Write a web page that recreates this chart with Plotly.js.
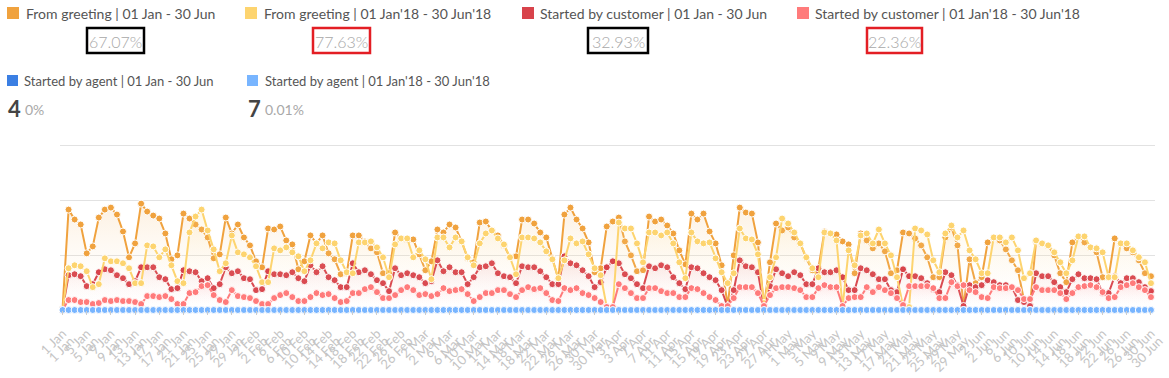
<!DOCTYPE html>
<html>
<head>
<meta charset="utf-8">
<script src="https://cdn.plot.ly/plotly-3.0.1.min.js"></script>
<style>html,body{margin:0;padding:0;background:#fff;}#chart{width:1169px;height:378px;}</style>
</head>
<body>
<div id="chart"></div>
<script>
// ---- data (one value per day, 1 Jan .. 30 Jun) ----
const greeting2019 = [
 1,101,91,86,57,64,93,101,103,96,
 79,53,67,107,99,95,92,77,51,55,
 97,92,86,81,73,52,56,93,77,86,
 73,65,49,43,82,81,84,70,66,41,
 49,75,67,75,57,51,36,37,75,75,
 69,62,58,37,37,78,72,71,71,56,
 40,49,81,78,86,83,69,52,48,88,
 89,80,75,65,53,54,91,91,87,78,
 73,52,31,96,103,91,82,68,38,42,
 84,89,93,69,55,39,40,94,89,91,
 85,77,60,46,97,91,97,79,67,45,
 5,55,103,98,97,68,4,48,87,80,
 83,73,67,52,40,42,79,77,76,69,
 66,37,77,70,62,67,59,37,40,78,
 77,72,65,53,33,33,73,83,65,4,
 51,27,33,68,73,70,61,50,40,10,
 5,69,67,65,55,37,28,68,74,68,
 63,58,33,33,72,67,62,58,50,37,
 34];
const greeting2018 = [
 0,42,45,44,39,23,26,52,49,49,
 47,42,27,27,65,64,53,61,45,29,
 27,78,94,101,80,61,39,47,75,58,
 56,53,44,28,28,62,60,63,58,54,
 39,50,67,62,68,67,50,38,37,68,
 68,69,63,53,33,66,72,72,53,60,
 51,31,73,73,63,73,69,53,45,67,
 77,80,72,66,53,36,73,73,72,68,
 59,51,32,50,72,67,69,56,42,35,
 3,3,88,82,82,67,48,78,78,75,
 78,67,48,32,78,69,67,68,52,38,
 27,37,82,72,71,56,7,33,53,92,
 87,78,67,53,42,33,78,77,70,3,
 60,45,75,77,67,81,67,55,33,4,
 3,82,80,76,50,38,77,85,73,80,
 60,51,37,37,73,73,68,73,60,32,
 37,70,67,65,58,48,37,50,74,74,
 63,62,58,33,33,67,67,60,53,48,
 27];
const customer2019 = [
 0,35,36,34,24,26,38,41,40,35,
 32,26,29,43,43,43,33,31,21,22,
 40,39,38,29,32,22,26,43,37,39,
 32,31,20,21,39,36,36,35,38,32,
 29,45,38,44,33,30,23,23,47,38,
 40,36,30,27,19,42,35,37,35,33,
 27,29,50,39,43,38,38,26,33,43,
 44,47,37,34,33,27,44,43,43,39,
 33,26,26,54,47,45,40,34,23,28,
 43,49,47,36,32,26,22,44,42,45,
 43,33,27,21,43,42,37,33,30,20,
 3,20,50,44,43,38,3,24,41,37,
 34,38,35,26,26,42,38,38,40,33,
 20,20,42,40,36,31,31,20,18,41,
 34,34,32,27,21,18,38,35,25,4,
 25,23,25,30,28,25,25,23,10,8,
 4,37,34,34,28,23,18,31,36,32,
 32,31,17,17,34,27,32,32,28,23,
 19];
const customer2018 = [
 0,10,10,8,8,6,7,10,9,10,
 9,9,8,6,14,14,13,14,11,6,
 6,17,18,24,25,15,10,8,20,14,
 13,12,9,6,6,12,15,17,13,9,
 9,13,17,15,16,12,8,9,17,17,
 21,23,18,12,12,15,20,23,20,15,
 16,14,16,22,19,20,21,16,9,13,
 17,17,20,20,16,13,20,23,21,22,
 17,10,9,22,20,22,17,15,12,8,
 3,3,26,22,17,12,12,22,22,19,
 17,17,13,13,22,21,17,13,10,4,
 4,12,23,23,23,17,4,15,22,23,
 23,22,20,13,13,22,25,23,23,4,
 12,13,13,23,18,23,20,17,12,5,
 24,24,24,24,22,12,12,28,24,25,
 20,18,13,12,23,22,22,23,20,11,
 11,23,20,20,20,17,11,17,23,24,
 25,23,18,12,13,23,25,27,23,20,
 13];
const agent2019 = [
 0,0,0,0,0,0,0,0,0,0, 0,0,0,0,0,0,0,0,0,0, 0,0,0,0,0,0,0,0,0,0,
 0,0,0,0,0,0,0,0,0,0, 0,0,0,0,0,0,0,0,0,0, 0,0,0,0,0,0,0,0,0,0,
 0,0,0,0,0,0,0,0,0,0, 0,0,0,0,0,0,0,0,0,0, 0,0,0,0,0,0,0,0,0,0,
 0,0,0,0,0,0,0,0,0,0, 0,0,0,0,0,0,0,0,0,0, 0,0,0,0,0,0,0,0,0,0,
 0,0,0,0,0,0,0,0,0,0, 0,0,0,0,0,0,0,0,0,0, 0,0,0,0,0,0,0,0,0,0,
 0,0,0,0,0,0,0,0,0,0, 0,0,0,0,0,0,0,0,0,0, 0,0,0,0,0,0,0,0,0,0,
 0];
const agent2018 = [
 0,0,0,0,0,0,0,0,0,0, 0,0,0,0,0,0,0,0,0,0, 0,0,0,0,0,0,0,0,0,0,
 0,0,0,0,0,0,0,0,0,0, 0,0,0,0,0,0,0,0,0,0, 0,0,0,0,0,0,0,0,0,0,
 0,0,0,0,0,0,0,0,0,0, 0,0,0,0,0,0,0,0,0,0, 0,0,0,0,0,0,0,0,0,0,
 0,0,0,0,0,0,0,0,0,0, 0,0,0,0,0,0,0,0,0,0, 0,0,0,0,0,0,0,0,0,0,
 0,0,0,0,0,0,0,0,0,0, 0,0,0,0,0,0,0,0,0,0, 0,0,0,0,0,0,0,0,0,0,
 0,0,0,0,0,0,0,0,0,0, 0,0,0,0,0,0,0,0,0,0, 0,0,0,0,0,0,0,0,0,0,
 0];

const seriesNames = [
 'From greeting | 01 Jan - 30 Jun',
 "From greeting | 01 Jan'18 - 30 Jun'18",
 'Started by customer | 01 Jan - 30 Jun',
 "Started by customer | 01 Jan'18 - 30 Jun'18",
 'Started by agent | 01 Jan - 30 Jun',
 "Started by agent | 01 Jan'18 - 30 Jun'18"
];
const sharePct = ['67.07%', '77.63%', '32.93%', '22.36%', '0%', '0.01%'];
const agentTotals = ['4', '7'];

// date categories
function dayList(year, n) {
  const out = [];
  for (let i = 0; i < n; i++) {
    out.push(new Date(Date.UTC(year, 0, 1 + i)).toISOString().slice(0, 10));
  }
  return out;
}
const dates2019 = dayList(2019, greeting2019.length);
const dates2018 = dayList(2018, greeting2018.length);

const colors = ['#f0a23e', '#fdd46f', '#d8434b', '#ff7b7b', '#3b7fe3', '#78b5ff'];

function trace(i, x, y, axis, fillTop) {
  const t = {
    name: seriesNames[i], x: x, y: y, xaxis: axis, yaxis: 'y',
    type: 'scatter', mode: 'lines+markers', cliponaxis: false,
    line: {color: colors[i], width: 2},
    marker: {size: 7, color: colors[i], line: {color: '#ffffff', width: 1}},
    hoverinfo: 'x+y'
  };
  if (fillTop) {
    t.fill = 'tozeroy';
    t.fillgradient = {type: 'vertical', colorscale: [[0, 'rgba(255,255,255,0)'], [1, fillTop]]};
  }
  return t;
}

const data = [
  trace(0, dates2019, greeting2019, 'x', 'rgba(240,162,62,0.16)'),
  trace(1, dates2018, greeting2018, 'x2', 'rgba(253,212,111,0.16)'),
  trace(2, dates2019, customer2019, 'x', 'rgba(216,67,75,0.16)'),
  trace(3, dates2018, customer2018, 'x2', 'rgba(255,123,123,0.16)'),
  trace(4, dates2019, agent2019, 'x', null),
  trace(5, dates2018, agent2018, 'x2', null)
];

// pixel helpers for the header (plot area: x 60..1155, y 144..310)
const PL = 60, PW = 1095, PB = 310, PH = 166;
const px = v => (v - PL) / PW;
const py = v => (PB - v) / PH;

const font = 'Lato, "Source Sans Pro", "Noto Sans", sans-serif';
const annotations = [];
const shapes = [];
function sq(x0, y0, x1, y1, c) {
  shapes.push({type: 'rect', xref: 'paper', yref: 'paper', x0: px(x0), x1: px(x1), y0: py(y1), y1: py(y0),
    fillcolor: c, line: {width: 0}, layer: 'above'});
}
function txt(x, y, s, size, color, anchor, weight) {
  annotations.push({xref: 'paper', yref: 'paper', x: px(x), y: py(y), xanchor: anchor || 'left', yanchor: 'middle',
    text: s, showarrow: false, font: {family: font, size: size, color: color, weight: weight || 400}});
}
function box(x0, y0, x1, y1, c) {
  shapes.push({type: 'rect', xref: 'paper', yref: 'paper', x0: px(x0), x1: px(x1), y0: py(y1), y1: py(y0),
    fillcolor: 'rgba(0,0,0,0)', line: {width: 2.5, color: c}, layer: 'above'});
}

// row 1
const row1 = [[7, 24], [245, 262], [522, 538], [797, 813]];
row1.forEach((r, i) => { sq(r[0], 7, r[0] + 12, 19, colors[i]); txt(r[1], 13, seriesNames[i], 14, '#555'); });
// boxed percentages
const boxes = [[87, 144, '#000000'], [313, 370, '#e31e24'], [588, 648, '#000000'], [867, 922, '#e31e24']];
boxes.forEach((b, i) => { box(b[0], 28, b[1], 53, b[2]); txt((b[0] + b[1]) / 2, 41, sharePct[i], 16, '#a8a8a8', 'center', 300); });
// row 3
const row3 = [[7, 22], [247, 263]];
row3.forEach((r, i) => { sq(r[0], 75, r[0] + 11, 86, colors[4 + i]); txt(r[1], 81, seriesNames[4 + i], 13, '#555'); });
// totals
txt(6, 108, agentTotals[0], 22, '#444', 'left', 700);
txt(23, 109, sharePct[4], 14, '#a8a8a8');
txt(246, 108, agentTotals[1], 22, '#444', 'left', 700);
txt(263, 109, sharePct[5], 14, '#a8a8a8');

const tickFont = {family: font, size: 13, color: '#c4c4c4'};
const layout = {
  width: 1169, height: 378,
  margin: {l: 60, r: 14, t: 144, b: 68, pad: 0},
  paper_bgcolor: '#ffffff', plot_bgcolor: '#ffffff',
  showlegend: false,
  xaxis: {
    type: 'date', range: ['2018-12-31 14:00', '2019-06-30 16:00'],
    tick0: '2019-01-01', dtick: 4 * 86400000, tickformat: '%-d %b',
    tickangle: -45, tickfont: tickFont,
    ticks: 'outside', ticklen: 4, tickcolor: '#cccccc', tickwidth: 1,
    ticklabelstandoff: 6,
    showgrid: false, zeroline: false, showline: false, fixedrange: true
  },
  xaxis2: {
    type: 'date', overlaying: 'x', anchor: 'y', side: 'bottom',
    range: ['2017-12-31 14:00', '2018-06-30 16:00'],
    tick0: '2018-01-01', dtick: 4 * 86400000, tickformat: '%-d %b',
    tickangle: -45, tickfont: tickFont, ticks: '',
    ticklabelstandoff: 20, ticklabelshift: 8,
    showgrid: false, zeroline: false, showline: false, fixedrange: true
  },
  yaxis: {
    range: [0, 167], tick0: 0, dtick: 55, showticklabels: false,
    gridcolor: '#e2e2e2', gridwidth: 1, zeroline: false, showline: false, fixedrange: true
  },
  annotations: annotations,
  shapes: shapes
};

Plotly.newPlot('chart', data, layout, {displayModeBar: false, staticPlot: true});
</script>
</body>
</html>
